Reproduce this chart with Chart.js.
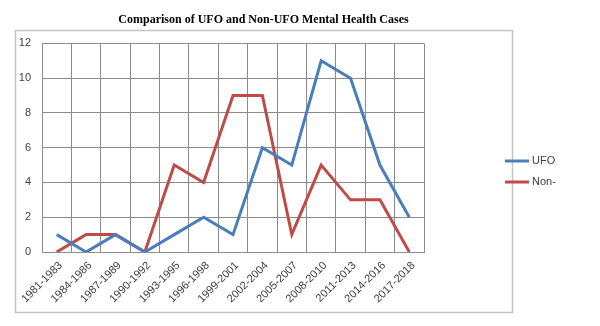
<!DOCTYPE html>
<html>
<head>
<meta charset="utf-8">
<script src="https://cdn.jsdelivr.net/npm/chart.js@4.4.0/dist/chart.umd.min.js"></script>
<style>
  html, body { margin: 0; padding: 0; background: #fff; }
  #wrap { width: 600px; height: 326px; }
</style>
</head>
<body>
<div id="wrap"><canvas id="lineChart" width="600" height="326"></canvas></div>
<script>
var periods = ['1981-1983', '1984-1986', '1987-1989', '1990-1992', '1993-1995', '1996-1998',
	'1999-2001', '2002-2004', '2005-2007', '2008-2010', '2011-2013', '2014-2016', '2017-2018'];
var ufoCases = [1, 0, 1, 0, 1, 2, 1, 6, 5, 11, 10, 5, 2];
var nonUfoCases = [0, 1, 1, 0, 5, 4, 9, 9, 1, 5, 3, 3, 0];
var seriesNames = ['UFO', 'Non-'];
var yTicks = [0, 2, 4, 6, 8, 10, 12];

var gridColor = '#8c8c8c';
var tickFont = { family: 'Liberation Sans', size: 11 };

// outer frame plus a hand-drawn legend to the right of the plot
var frameLegend = {
	id: 'frameLegend',
	beforeDraw: function(chart){
		var ctx = chart.ctx;
		ctx.save();
		ctx.strokeStyle = '#c4c4c4';
		ctx.lineWidth = 1.5;
		ctx.strokeRect(15.5, 30.5, 497, 282);
		ctx.restore();
	},
	afterDraw: function(chart){
		var ctx = chart.ctx;
		var x = chart.chartArea.right + 81;
		var y = 161;
		ctx.save();
		ctx.font = '11px "Liberation Sans"';
		ctx.textBaseline = 'middle';
		chart.data.datasets.forEach(function(ds){
			ctx.strokeStyle = ds.borderColor;
			ctx.lineWidth = 3;
			ctx.beginPath();
			ctx.moveTo(x, y);
			ctx.lineTo(x + 24, y);
			ctx.stroke();
			ctx.fillStyle = '#404040';
			ctx.fillText(ds.label, x + 27, y);
			y += 21;
		});
		ctx.restore();
	}
};

var ctx = document.getElementById('lineChart').getContext('2d');
var chart = new Chart(ctx, {
	type: 'line',
	data: {
		labels: periods,
		datasets: [{
			label: seriesNames[0],
			data: ufoCases,
			borderColor: '#4a7ebb',
			backgroundColor: '#4a7ebb',
			borderWidth: 3,
			pointRadius: 0,
			tension: 0
		}, {
			label: seriesNames[1],
			data: nonUfoCases,
			borderColor: '#be4b48',
			backgroundColor: '#be4b48',
			borderWidth: 3,
			pointRadius: 0,
			tension: 0
		}]
	},
	options: {
		responsive: false,
		animation: false,
		layout: { padding: { left: 15, right: 88, top: 0, bottom: 0 } },
		plugins: {
			legend: { display: false },
			tooltip: { enabled: false },
			title: {
				display: true,
				text: 'Comparison of UFO and Non-UFO Mental Health Cases',
				color: '#000',
				font: { family: 'Liberation Serif', size: 12, weight: 'bold' },
				padding: { top: 13, bottom: 16 }
			}
		},
		scales: {
			x: {
				offset: true,
				grid: { offset: true, color: gridColor, drawTicks: false },
				border: { color: gridColor },
				ticks: {
					font: tickFont,
					color: '#404040',
					minRotation: 45,
					maxRotation: 45,
					padding: 7,
					labelOffset: 4,
					autoSkip: false
				},
				afterFit: function(scale){ scale.height = 74; }
			},
			y: {
				min: 0,
				max: 12,
				afterBuildTicks: function(scale){
					scale.ticks = yTicks.map(function(v){ return { value: v }; });
				},
				grid: { color: gridColor, drawTicks: false },
				border: { color: gridColor },
				ticks: { font: tickFont, color: '#404040', padding: 11 },
				afterFit: function(scale){ scale.width = 27; }
			},
			// keeps room on the right for the legend
			spacer: {
				type: 'linear',
				position: 'right',
				display: true,
				grid: { display: false, drawTicks: false },
				border: { display: false },
				ticks: { display: false },
				afterFit: function(scale){ scale.width = 88; }
			}
		}
	},
	plugins: [frameLegend]
});
</script>
</body>
</html>
